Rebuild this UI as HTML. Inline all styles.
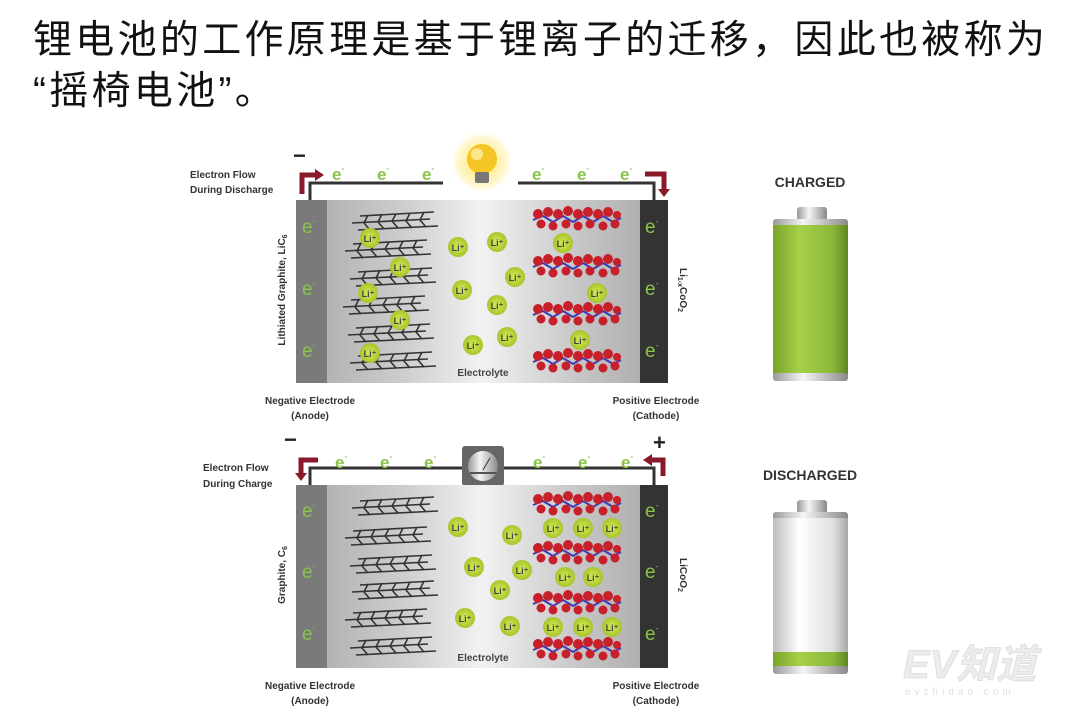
<!DOCTYPE html>
<html><head><meta charset="utf-8"><style>
html,body{margin:0;padding:0;background:#fff;width:1080px;height:720px;overflow:hidden}
.t{position:absolute;left:33px;font-family:"Liberation Sans","Noto Sans CJK SC",sans-serif;font-size:39px;color:#111;letter-spacing:3.3px;line-height:52px}
</style></head><body>
<div class="t" style="top:15px">锂电池的工作原理是基于锂离子的迁移，因此也被称为</div>
<div class="t" style="top:66px">“摇椅电池”。</div>
<svg width="1080" height="720" style="position:absolute;left:0;top:0" font-family="Liberation Sans, sans-serif">
<defs>
<linearGradient id="bx" x1="0" x2="1"><stop offset="0" stop-color="#a8a8a8"/><stop offset="0.3" stop-color="#cfcfcf"/><stop offset="0.5" stop-color="#f2f2f2"/><stop offset="0.75" stop-color="#c8c8c8"/><stop offset="1" stop-color="#a5a5a5"/></linearGradient>
<radialGradient id="li"><stop offset="0" stop-color="#d6ea5a"/><stop offset="1" stop-color="#a6c62a"/></radialGradient>
<radialGradient id="glow"><stop offset="0.45" stop-color="#fff0a0"/><stop offset="0.8" stop-color="#fff8d8"/><stop offset="1" stop-color="#fff" stop-opacity="0"/></radialGradient>
<linearGradient id="gb" x1="0" x2="1"><stop offset="0" stop-color="#7aa32a"/><stop offset="0.35" stop-color="#a6d048"/><stop offset="0.8" stop-color="#8ab83a"/><stop offset="1" stop-color="#5f8520"/></linearGradient>
<linearGradient id="wb" x1="0" x2="1"><stop offset="0" stop-color="#bdbdbd"/><stop offset="0.35" stop-color="#ffffff"/><stop offset="0.8" stop-color="#e0e0e0"/><stop offset="1" stop-color="#a8a8a8"/></linearGradient>
<linearGradient id="mt" x1="0" x2="1"><stop offset="0" stop-color="#999"/><stop offset="0.4" stop-color="#f5f5f5"/><stop offset="1" stop-color="#888"/></linearGradient>
<g id="gl" stroke="#333" stroke-width="1.6" fill="none">
<path d="M8 4 L82 0 M0 11 L78 7 M6 18 L86 14"/>
<path d="M16 3 L12 11 L18 18 M30 2 L26 10 L32 17 M44 2 L40 9 L46 16 M58 1 L54 9 L60 16 M72 0 L68 8 L74 15"/>
</g>
<g id="cl">
<path d="M0 12 L10 8 L20 14 L30 8 L40 14 L50 8 L60 14 L70 8 L80 14 L88 10" stroke="#3a3ab8" stroke-width="2" fill="none"/>
<g fill="#c8202a"><circle cx="5" cy="6" r="5"/><circle cx="15" cy="4" r="5"/><circle cx="25" cy="6" r="5"/><circle cx="35" cy="3" r="5"/><circle cx="45" cy="6" r="5"/><circle cx="55" cy="4" r="5"/><circle cx="65" cy="6" r="5"/><circle cx="75" cy="4" r="5"/><circle cx="84" cy="7" r="4"/>
<circle cx="8" cy="16" r="4.5"/><circle cx="20" cy="18" r="4.5"/><circle cx="33" cy="16" r="4.5"/><circle cx="45" cy="18" r="4.5"/><circle cx="57" cy="16" r="4.5"/><circle cx="70" cy="18" r="4.5"/><circle cx="82" cy="16" r="4.5"/></g>
</g>
<g id="L"><circle r="10" fill="url(#li)"/><text y="4" text-anchor="middle" font-size="9" font-weight="bold" fill="#444">Li⁺</text></g>
</defs>

<!-- TOP PANEL -->
<text x="293" y="163" font-size="22" font-weight="bold" fill="#222">−</text>
<text x="190" y="178" font-size="10" font-weight="bold" fill="#333">Electron Flow</text>
<text x="190" y="193" font-size="10" font-weight="bold" fill="#333">During Discharge</text>
<path d="M310 200 V183 H443 M518 183 H654 V200" stroke="#333" stroke-width="3" fill="none"/>
<path d="M302 194 V175 H316" stroke="#8a1a2a" stroke-width="5" fill="none"/><path d="M315 169 L324 175 L315 181Z" fill="#8a1a2a"/>
<path d="M645 174 H664 V190" stroke="#8a1a2a" stroke-width="5" fill="none"/><path d="M658 189 L664 197 L670 189Z" fill="#8a1a2a"/>
<g font-size="17" fill="#8bc34a" font-weight="bold"><text x="332" y="180">e<tspan font-size="8" dy="-9">-</tspan></text><text x="377" y="180">e<tspan font-size="8" dy="-9">-</tspan></text><text x="422" y="180">e<tspan font-size="8" dy="-9">-</tspan></text><text x="532" y="180">e<tspan font-size="8" dy="-9">-</tspan></text><text x="577" y="180">e<tspan font-size="8" dy="-9">-</tspan></text><text x="620" y="180">e<tspan font-size="8" dy="-9">-</tspan></text></g>
<circle cx="482" cy="162" r="32" fill="url(#glow)"/>
<circle cx="482" cy="159" r="15" fill="#f5c526"/><circle cx="477" cy="154" r="6" fill="#fde68a"/>
<rect x="475" y="172" width="14" height="11" rx="2" fill="#777"/>
<rect x="296" y="200" width="372" height="183" fill="url(#bx)"/>
<rect x="296" y="200" width="31" height="183" fill="#7a7a7a"/>
<rect x="640" y="200" width="28" height="183" fill="#333"/>
<g font-size="19" fill="#8bc34a"><text x="302" y="233">e<tspan font-size="8" dy="-9">-</tspan></text><text x="302" y="295">e<tspan font-size="8" dy="-9">-</tspan></text><text x="302" y="357">e<tspan font-size="8" dy="-9">-</tspan></text><text x="645" y="233">e<tspan font-size="8" dy="-9">-</tspan></text><text x="645" y="295">e<tspan font-size="8" dy="-9">-</tspan></text><text x="645" y="357">e<tspan font-size="8" dy="-9">-</tspan></text></g>
<use href="#gl" x="352" y="212"/><use href="#gl" x="345" y="240"/><use href="#gl" x="350" y="268"/><use href="#gl" x="343" y="296"/><use href="#gl" x="348" y="324"/><use href="#gl" x="350" y="352"/>
<use href="#cl" x="533" y="208"/><use href="#cl" x="533" y="255"/><use href="#cl" x="533" y="303"/><use href="#cl" x="533" y="350"/>
<use href="#L" x="370" y="238"/><use href="#L" x="400" y="267"/><use href="#L" x="368" y="293"/><use href="#L" x="400" y="320"/><use href="#L" x="370" y="353"/>
<use href="#L" x="458" y="247"/><use href="#L" x="497" y="242"/><use href="#L" x="515" y="277"/><use href="#L" x="462" y="290"/><use href="#L" x="497" y="305"/><use href="#L" x="507" y="337"/><use href="#L" x="473" y="345"/>
<use href="#L" x="563" y="243"/><use href="#L" x="597" y="293"/><use href="#L" x="580" y="340"/>
<text x="483" y="376" font-size="10" font-weight="bold" fill="#444" text-anchor="middle">Electrolyte</text>
<text transform="translate(285,290) rotate(-90)" font-size="10" font-weight="bold" fill="#333" text-anchor="middle">Lithiated Graphite, LiC<tspan font-size="7" dy="2">6</tspan></text>
<text transform="translate(680,290) rotate(90)" font-size="10" font-weight="bold" fill="#333" text-anchor="middle">Li<tspan font-size="7" dy="2">1-x</tspan><tspan dy="-2">CoO</tspan><tspan font-size="7" dy="2">2</tspan></text>
<g font-size="10" font-weight="bold" fill="#333" text-anchor="middle"><text x="310" y="404">Negative Electrode</text><text x="310" y="419">(Anode)</text><text x="656" y="404">Positive Electrode</text><text x="656" y="419">(Cathode)</text></g>

<!-- BOTTOM PANEL -->
<text x="284" y="447" font-size="22" font-weight="bold" fill="#222">−</text>
<text x="653" y="450" font-size="22" font-weight="bold" fill="#222">+</text>
<text x="203" y="471" font-size="10" font-weight="bold" fill="#333">Electron Flow</text>
<text x="203" y="487" font-size="10" font-weight="bold" fill="#333">During  Charge</text>
<path d="M310 485 V468 H463 M503 468 H654 V485" stroke="#333" stroke-width="3" fill="none"/>
<path d="M318 460 H301 V474" stroke="#8a1a2a" stroke-width="5" fill="none"/><path d="M295 473 L301 481 L307 473Z" fill="#8a1a2a"/>
<path d="M663 476 V460 H651" stroke="#8a1a2a" stroke-width="5" fill="none"/><path d="M652 454 L643 460 L652 466Z" fill="#8a1a2a"/>
<g font-size="17" fill="#8bc34a" font-weight="bold"><text x="335" y="468">e<tspan font-size="8" dy="-9">-</tspan></text><text x="380" y="468">e<tspan font-size="8" dy="-9">-</tspan></text><text x="424" y="468">e<tspan font-size="8" dy="-9">-</tspan></text><text x="533" y="468">e<tspan font-size="8" dy="-9">-</tspan></text><text x="578" y="468">e<tspan font-size="8" dy="-9">-</tspan></text><text x="621" y="468">e<tspan font-size="8" dy="-9">-</tspan></text></g>
<rect x="462" y="446" width="42" height="40" rx="3" fill="#666"/>
<circle cx="483" cy="466" r="15" fill="url(#mt)"/><path d="M483 470 L490 458" stroke="#333" stroke-width="1"/><rect x="470" y="472" width="26" height="2" fill="#555"/>
<rect x="296" y="485" width="372" height="183" fill="url(#bx)"/>
<rect x="296" y="485" width="31" height="183" fill="#7a7a7a"/>
<rect x="640" y="485" width="28" height="183" fill="#333"/>
<g font-size="19" fill="#8bc34a"><text x="302" y="517">e<tspan font-size="8" dy="-9">-</tspan></text><text x="302" y="578">e<tspan font-size="8" dy="-9">-</tspan></text><text x="302" y="640">e<tspan font-size="8" dy="-9">-</tspan></text><text x="645" y="517">e<tspan font-size="8" dy="-9">-</tspan></text><text x="645" y="578">e<tspan font-size="8" dy="-9">-</tspan></text><text x="645" y="640">e<tspan font-size="8" dy="-9">-</tspan></text></g>
<use href="#gl" x="352" y="497"/><use href="#gl" x="345" y="527"/><use href="#gl" x="350" y="555"/><use href="#gl" x="352" y="581"/><use href="#gl" x="345" y="609"/><use href="#gl" x="350" y="637"/>
<use href="#cl" x="533" y="493"/><use href="#cl" x="533" y="542"/><use href="#cl" x="533" y="592"/><use href="#cl" x="533" y="638"/>
<use href="#L" x="458" y="527"/><use href="#L" x="512" y="535"/><use href="#L" x="474" y="567"/><use href="#L" x="522" y="570"/><use href="#L" x="500" y="590"/><use href="#L" x="465" y="618"/><use href="#L" x="510" y="626"/>
<use href="#L" x="553" y="528"/><use href="#L" x="583" y="528"/><use href="#L" x="612" y="528"/><use href="#L" x="565" y="577"/><use href="#L" x="593" y="577"/><use href="#L" x="553" y="627"/><use href="#L" x="583" y="627"/><use href="#L" x="612" y="627"/>
<text x="483" y="661" font-size="10" font-weight="bold" fill="#444" text-anchor="middle">Electrolyte</text>
<text transform="translate(285,575) rotate(-90)" font-size="10" font-weight="bold" fill="#333" text-anchor="middle">Graphite, C<tspan font-size="7" dy="2">6</tspan></text>
<text transform="translate(680,575) rotate(90)" font-size="10" font-weight="bold" fill="#333" text-anchor="middle">LiCoO<tspan font-size="7" dy="2">2</tspan></text>
<g font-size="10" font-weight="bold" fill="#333" text-anchor="middle"><text x="310" y="689">Negative Electrode</text><text x="310" y="704">(Anode)</text><text x="656" y="689">Positive Electrode</text><text x="656" y="704">(Cathode)</text></g>

<!-- BATTERIES -->
<text x="810" y="187" font-size="14" font-weight="bold" fill="#333" text-anchor="middle">CHARGED</text>
<rect x="797" y="207" width="30" height="14" rx="3" fill="url(#mt)"/>
<rect x="773" y="219" width="75" height="8" rx="3" fill="url(#mt)"/>
<rect x="773" y="225" width="75" height="150" fill="url(#gb)"/>
<rect x="773" y="373" width="75" height="8" rx="3" fill="url(#mt)"/>
<text x="810" y="480" font-size="14" font-weight="bold" fill="#333" text-anchor="middle">DISCHARGED</text>
<rect x="797" y="500" width="30" height="14" rx="3" fill="url(#mt)"/>
<rect x="773" y="512" width="75" height="8" rx="3" fill="url(#mt)"/>
<rect x="773" y="518" width="75" height="136" fill="url(#wb)"/>
<rect x="773" y="652" width="75" height="16" fill="url(#gb)"/>
<rect x="773" y="666" width="75" height="8" rx="3" fill="url(#mt)"/>
<text x="903" y="678" font-size="40" font-weight="bold" font-style="italic" fill="#ececec" stroke="#dcdcdc" stroke-width="0.8" font-family="Liberation Sans, Noto Sans CJK SC, sans-serif">EV知道</text>
<text x="905" y="695" font-size="10" fill="#e0e0e0" letter-spacing="4">evzhidao.com</text>
</svg>
</body></html>
